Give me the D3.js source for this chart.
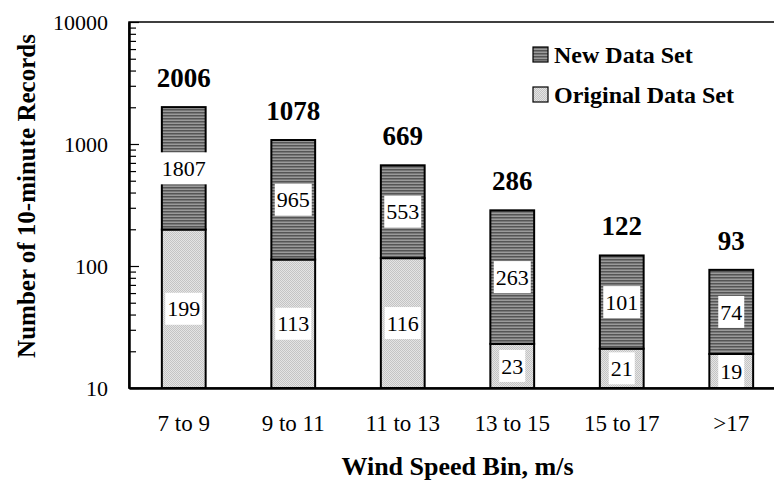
<!DOCTYPE html>
<html>
<head>
<meta charset="utf-8">
<script src="https://cdn.jsdelivr.net/npm/d3@7"></script>
<style>
  body { margin: 0; background: #fff; }
</style>
</head>
<body>
<div id="chart"></div>
<script>
// data
let bins = ['7 to 9', '9 to 11', '11 to 13', '13 to 15', '15 to 17', '>17']
let originalCounts = [199, 113, 116, 23, 21, 19]
let newCounts = [1807, 965, 553, 263, 101, 74]
let totals = [2006, 1078, 669, 286, 122, 93]
let majorTicks = [10, 100, 1000, 10000]

let serif = '"Liberation Serif", "Times New Roman", Times, serif'

let svgWidth = 774
let svgHeight = 487

let margin = { left: 129, top: 22, right: -12, bottom: 99 }
let width = svgWidth - margin.left - margin.right
let height = svgHeight - margin.top - margin.bottom

let svg = d3.select('#chart')
    .append('svg')
    .attr('width', svgWidth)
    .attr('height', svgHeight)

// fill patterns
let defs = svg.append('defs')
let pNew = defs.append('pattern')
    .attr('id', 'pat-new')
    .attr('patternUnits', 'userSpaceOnUse')
    .attr('width', 4).attr('height', 3)
pNew.append('rect').attr('width', 4).attr('height', 3).attr('fill', '#9a9a9a')
pNew.append('rect').attr('y', 0).attr('width', 4).attr('height', 1.5).attr('fill', '#555')

let pOld = defs.append('pattern')
    .attr('id', 'pat-old')
    .attr('patternUnits', 'userSpaceOnUse')
    .attr('width', 2).attr('height', 2)
pOld.append('rect').attr('width', 2).attr('height', 2).attr('fill', '#c4c4c4')
pOld.append('rect').attr('width', 1).attr('height', 1).attr('fill', '#e4e4e4')
pOld.append('rect').attr('x', 1).attr('y', 1).attr('width', 1).attr('height', 1).attr('fill', '#e4e4e4')

let g = svg.append('g')
    .attr('transform', `translate(${margin.left},${margin.top})`)

// scales
let x = d3.scaleBand()
    .domain(bins)
    .range([0, width])
    .paddingInner(0.6)
    .paddingOuter(0.3)

let y = d3.scaleLog()
    .domain([10, 10000])
    .range([height, 0])

let minorTicks = []
majorTicks.slice(0, -1).forEach(m => {
    for (let k = 2; k <= 9; k++) minorTicks.push(m * k)
})

// plot frame
g.append('rect')
    .attr('width', width)
    .attr('height', height)
    .attr('fill', 'none')
    .attr('stroke', '#000')
    .attr('stroke-width', 1.5)

// bars
let rows = bins.map((b, i) => ({ bin: b, orig: originalCounts[i], add: newCounts[i], total: totals[i] }))

g.selectAll('.bar-old')
    .data(rows)
    .enter().append('rect')
    .attr('class', 'bar-old')
    .attr('x', d => x(d.bin))
    .attr('width', x.bandwidth())
    .attr('y', d => y(d.orig))
    .attr('height', d => y(10) - y(d.orig))
    .attr('fill', 'url(#pat-old)')
    .attr('stroke', '#000')
    .attr('stroke-width', 2)

g.selectAll('.bar-new')
    .data(rows)
    .enter().append('rect')
    .attr('class', 'bar-new')
    .attr('x', d => x(d.bin))
    .attr('width', x.bandwidth())
    .attr('y', d => y(d.total))
    .attr('height', d => y(d.orig) - y(d.total))
    .attr('fill', 'url(#pat-new)')
    .attr('stroke', '#000')
    .attr('stroke-width', 2)

// boxed segment labels, at geometric middle of each segment
function boxLabel(cx, cy, txt) {
    let lg = g.append('g').attr('transform', `translate(${cx},${cy})`)
    let t = lg.append('text')
        .attr('text-anchor', 'middle')
        .attr('dy', '0.35em')
        .style('font-family', serif)
        .style('font-size', '22px')
        .text(txt)
    let w = t.node().getComputedTextLength()
    lg.insert('rect', 'text')
        .attr('x', -w / 2 - 2)
        .attr('y', -16)
        .attr('width', w + 4)
        .attr('height', 32)
        .attr('fill', '#fff')
}

rows.forEach(d => {
    let cx = x(d.bin) + x.bandwidth() / 2
    boxLabel(cx, y(Math.sqrt(10 * d.orig)), d.orig)
    boxLabel(cx, y(Math.sqrt(d.orig * d.total)), d.add)
})

// totals
g.selectAll('.total')
    .data(rows)
    .enter().append('text')
    .attr('class', 'total')
    .attr('x', d => x(d.bin) + x.bandwidth() / 2)
    .attr('y', d => y(d.total) - 20)
    .attr('text-anchor', 'middle')
    .style('font-family', serif)
    .style('font-size', '27px')
    .style('font-weight', 'bold')
    .text(d => d.total)

// y axis
let yAxis = d3.axisLeft(y)
    .tickValues(majorTicks)
    .tickFormat(d3.format('d'))
    .tickSizeInner(-10)
    .tickSizeOuter(0)
    .tickPadding(21)

let yMinor = d3.axisLeft(y)
    .tickValues(minorTicks)
    .tickFormat('')
    .tickSizeInner(-7)
    .tickSizeOuter(0)

g.append('g').attr('class', 'y-minor').call(yMinor)
g.append('g').attr('class', 'y-axis').call(yAxis)

g.selectAll('.y-axis .tick text')
    .style('font-family', serif)
    .style('font-size', '22px')
g.selectAll('.y-axis path, .y-minor path').attr('stroke-width', 2)
g.selectAll('.y-axis line, .y-minor line').attr('stroke-width', 1.2)

// x axis
let xAxis = d3.axisBottom(x)
    .tickSize(0)
    .tickPadding(27)

g.append('g')
    .attr('class', 'x-axis')
    .attr('transform', `translate(0,${height})`)
    .call(xAxis)

g.selectAll('.x-axis .tick text')
    .style('font-family', serif)
    .style('font-size', '23px')
g.selectAll('.x-axis path').attr('stroke-width', 2.5)

// axis titles
svg.append('text')
    .attr('x', margin.left + width / 2)
    .attr('y', 475)
    .attr('text-anchor', 'middle')
    .style('font-family', serif)
    .style('font-size', '26px')
    .style('font-weight', 'bold')
    .text('Wind Speed Bin, m/s')

svg.append('text')
    .attr('transform', 'translate(35,196) rotate(-90)')
    .attr('text-anchor', 'middle')
    .style('font-family', serif)
    .style('font-size', '25px')
    .style('font-weight', 'bold')
    .text('Number of 10-minute Records')

// legend
let legendItems = [
    { label: 'New Data Set', fill: 'url(#pat-new)' },
    { label: 'Original Data Set', fill: 'url(#pat-old)' }
]
let legend = svg.append('g').attr('transform', 'translate(533,47)')
legendItems.forEach((d, i) => {
    let row = legend.append('g').attr('transform', `translate(0,${i * 40})`)
    row.append('rect')
        .attr('width', 15)
        .attr('height', 15)
        .attr('fill', d.fill)
        .attr('stroke', '#000')
        .attr('stroke-width', 1.2)
    row.append('text')
        .attr('x', 21)
        .attr('y', 16)
        .style('font-family', serif)
        .style('font-size', '24px')
        .style('font-weight', 'bold')
        .text(d.label)
})
</script>
</body>
</html>
